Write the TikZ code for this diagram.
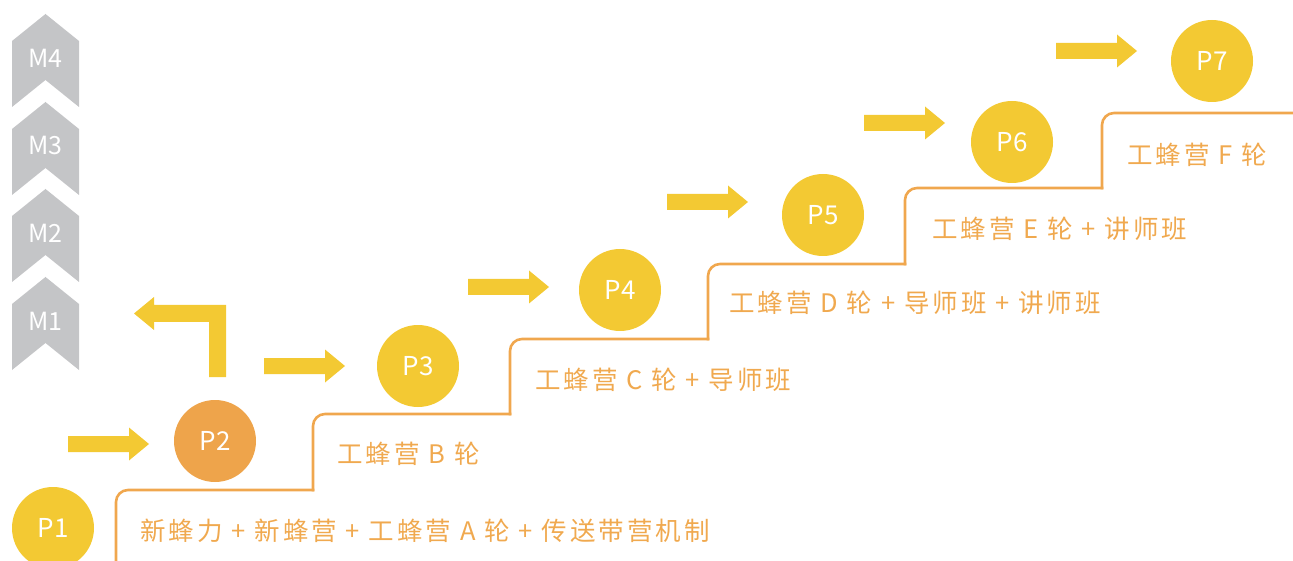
\documentclass[tikz,border=0pt]{standalone}
\usepackage{fontspec}
\setmainfont{Noto Sans CJK SC}
\newfontfamily\cjklabel[LetterSpace=12]{Noto Sans CJK SC}
\definecolor{ylw}{HTML}{F3C933}
\definecolor{org}{HTML}{EEA44B}
\definecolor{stairc}{HTML}{F0A74E}
\definecolor{txtc}{HTML}{F0A94F}
\definecolor{gry}{HTML}{C4C5C7}
\tikzset{
  pcirc/.style={circle, minimum size=82pt, inner sep=0pt, text=white, font=\fontsize{26}{30}\selectfont},
  steplabel/.style={anchor=west, inner sep=0pt, text=txtc, font=\cjklabel\fontsize{25.5}{30}\selectfont},
  mlabel/.style={inner sep=0pt, text=white, font=\fontsize{25}{29}\selectfont},
  stairline/.style={draw=stairc, line width=2.6pt, rounded corners=12pt, line cap=rect},
  chev/.style={fill=gry},
  yfill/.style={fill=ylw}
}
\newcommand{\yarrowat}[2]{%
  \fill[yfill] (#1,#2-8) -- (#1+61,#2-8) -- (#1+61,#2-16.5) -- (#1+81,#2) -- (#1+61,#2+16.5) -- (#1+61,#2+8) -- (#1,#2+8) -- cycle;}
\begin{document}
\begin{tikzpicture}[x=1pt,y=-1pt]
\useasboundingbox (0,0) rectangle (1293,561);
% chevrons
\foreach \yt/\lab in {14/M4,102/M3,189/M2,277/M1}{
  \fill[chev] (12,\yt+27) -- (45.5,\yt) -- (79,\yt+27) -- (79,\yt+93) -- (45.5,\yt+66) -- (12,\yt+93) -- cycle;
  \node[mlabel] (m\lab) at (45.5,\yt+44) {\lab};
}
% stairs
\draw[stairline] (116,561) -- (116,490) -- (313,490);
\draw[stairline] (313,490) -- (313,414) -- (510,414);
\draw[stairline] (510,414) -- (510,339) -- (708,339);
\draw[stairline] (708,339) -- (708,264) -- (905,264);
\draw[stairline] (905,264) -- (905,188) -- (1102,188);
\draw[stairline] (1102,188) -- (1102,113) -- (1296,113);
% circles
\node[pcirc, fill=ylw] (p1) at (53,528) {P1};
\node[pcirc, fill=org] (p2) at (215,441) {P2};
\node[pcirc, fill=ylw] (p3) at (418,366) {P3};
\node[pcirc, fill=ylw] (p4) at (620,290) {P4};
\node[pcirc, fill=ylw] (p5) at (823,215) {P5};
\node[pcirc, fill=ylw] (p6) at (1012,142) {P6};
\node[pcirc, fill=ylw] (p7) at (1212,61) {P7};
% arrows
\yarrowat{68}{444}
\yarrowat{264}{366}
\yarrowat{468}{287}
\yarrowat{667}{202}
\yarrowat{864}{123}
\yarrowat{1056}{51}
% turn arrow
\fill[yfill] (226,377) -- (226,305) -- (154,305) -- (154,297) -- (134,313.5) -- (154,330) -- (154,322) -- (209,322) -- (209,377) -- cycle;
% labels
\node[steplabel] (t1) at (140,531) {新蜂力 + 新蜂营 + 工蜂营 A 轮 + 传送带营机制};
\node[steplabel] (t2) at (337,454) {工蜂营 B 轮};
\node[steplabel] (t3) at (535,380) {工蜂营 C 轮 + 导师班};
\node[steplabel] (t4) at (729,303) {工蜂营 D 轮 + 导师班 + 讲师班};
\node[steplabel] (t5) at (932,229) {工蜂营 E 轮 + 讲师班};
\node[steplabel] (t6) at (1127,155) {工蜂营 F 轮};
\end{tikzpicture}
\end{document}
